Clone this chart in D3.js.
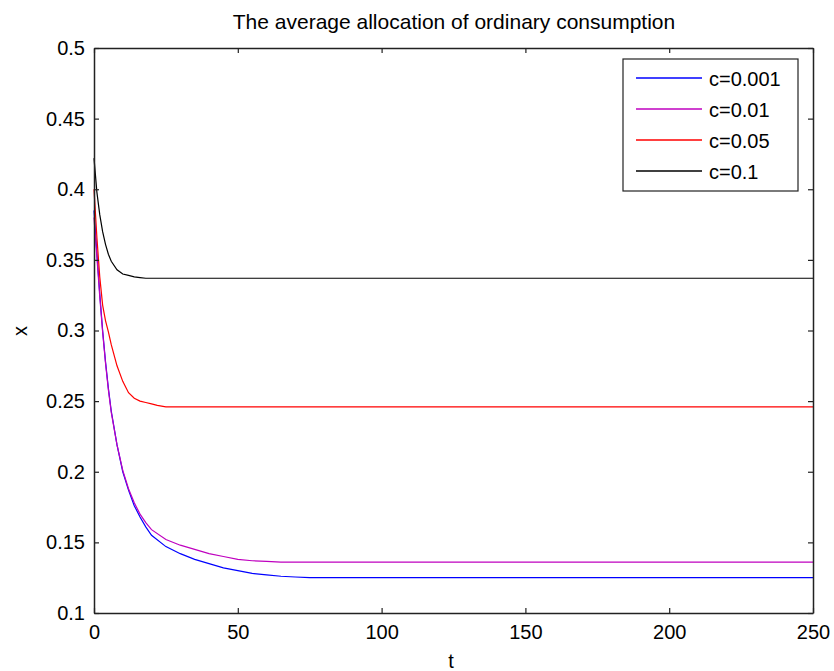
<!DOCTYPE html>
<html><head><meta charset="utf-8">
<script src="https://cdn.jsdelivr.net/npm/d3@7"></script>
<style>body{margin:0;background:#fff;} svg{display:block;} text{font-family:Arial,"Liberation Sans",sans-serif;fill:#000;}</style>
</head><body>
<svg id="c" width="834" height="671"></svg>
<script>
const title = "The average allocation of ordinary consumption";
const xTicks = [0,50,100,150,200,250];
const yTicks = [0.1,0.15,0.2,0.25,0.3,0.35,0.4,0.45,0.5];
const seriesNames = ["c=0.001","c=0.01","c=0.05","c=0.1"];
const seriesColors = ["#0000ff","#bf00bf","#ff0000","#000000"];

const tBlue = [0,1,2,3,4,5,6,8,10,12,14,16,18,20,25,30,35,40,45,50,55,60,65,70,75,250];
const vBlue = [0.385,0.355,0.326,0.300,0.278,0.259,0.243,0.219,0.200,0.187,0.176,0.168,0.161,0.155,0.147,0.142,0.138,0.135,0.132,0.130,0.128,0.127,0.126,0.1255,0.125,0.125];
const tMag = [0,1,2,3,4,5,6,8,10,12,14,16,18,20,25,30,35,40,45,50,55,60,65,250];
const vMag = [0.380,0.352,0.324,0.299,0.277,0.258,0.242,0.219,0.201,0.188,0.178,0.170,0.164,0.159,0.152,0.148,0.145,0.142,0.140,0.138,0.137,0.1365,0.136,0.136];
const tRed = [0,1,2,3,4,5,6,8,10,12,14,16,18,20,22,25,250];
const vRed = [0.400,0.366,0.338,0.318,0.307,0.299,0.290,0.275,0.264,0.256,0.252,0.250,0.249,0.248,0.247,0.246,0.246];
const tBlack = [0,1,2,3,4,5,6,8,10,12,14,16,18,20,250];
const vBlack = [0.422,0.398,0.382,0.370,0.361,0.354,0.349,0.343,0.340,0.339,0.338,0.3375,0.337,0.337,0.337];

const series = [[tBlue,vBlue],[tMag,vMag],[tRed,vRed],[tBlack,vBlack]];

const svg = d3.select("#c");
const L=94, R=813, T=48, B=613;
const x = d3.scaleLinear().domain([0,250]).range([L,R]);
const y = d3.scaleLinear().domain([0.1,0.5]).range([B,T]);

// curves
const line = d3.line().x(d=>x(d[0])).y(d=>y(d[1]));
series.forEach((s,i)=>{
  const pts = s[0].map((t,j)=>[t,s[1][j]]);
  svg.append("path").attr("d",line(pts)).attr("fill","none")
    .attr("stroke",seriesColors[i]).attr("stroke-width",1.2);
});

// axes with inward ticks
const fmtY = d=>String(+d.toFixed(2));
svg.append("g").attr("transform",`translate(0,${B})`)
  .call(d3.axisBottom(x).tickValues(xTicks).tickSizeInner(-5).tickSizeOuter(0).tickPadding(12))
  .call(g=>g.selectAll("text").attr("font-size",20));
svg.append("g").attr("transform",`translate(0,${T})`)
  .call(d3.axisTop(x).tickValues(xTicks).tickSizeInner(-5).tickSizeOuter(0).tickFormat(""));
svg.append("g").attr("transform",`translate(${L},0)`)
  .call(d3.axisLeft(y).tickValues(yTicks).tickFormat(fmtY).tickSizeInner(-5).tickSizeOuter(0).tickPadding(9))
  .call(g=>g.selectAll("text").attr("font-size",20));
svg.append("g").attr("transform",`translate(${R},0)`)
  .call(d3.axisRight(y).tickValues(yTicks).tickSizeInner(-5).tickSizeOuter(0).tickFormat(""));
svg.selectAll(".domain").attr("stroke","#222").attr("stroke-width",1.5);
svg.selectAll(".tick line").attr("stroke","#222").attr("stroke-width",1.2);
svg.selectAll(".tick text").attr("fill","#000").attr("font-family","Arial, Liberation Sans, sans-serif");

// labels
svg.append("text").attr("x",454).attr("y",29).attr("text-anchor","middle").attr("font-size",21).text(title);
svg.append("text").attr("x",451).attr("y",668).attr("text-anchor","middle").attr("font-size",20).text("t");
svg.append("text").attr("transform",`translate(27,331) rotate(-90)`).attr("text-anchor","middle").attr("font-size",20).text("x");

// legend
const lg = svg.append("g");
lg.append("rect").attr("x",623).attr("y",59).attr("width",175).attr("height",132)
  .attr("fill","#fff").attr("stroke","#222").attr("stroke-width",1.2);
seriesNames.forEach((n,i)=>{
  const yy = 78 + i*31;
  lg.append("line").attr("x1",636).attr("x2",702).attr("y1",yy).attr("y2",yy)
    .attr("stroke",seriesColors[i]).attr("stroke-width",1.3);
  lg.append("text").attr("x",709).attr("y",yy+8).attr("font-size",20).text(n);
});
</script>
</body></html>
